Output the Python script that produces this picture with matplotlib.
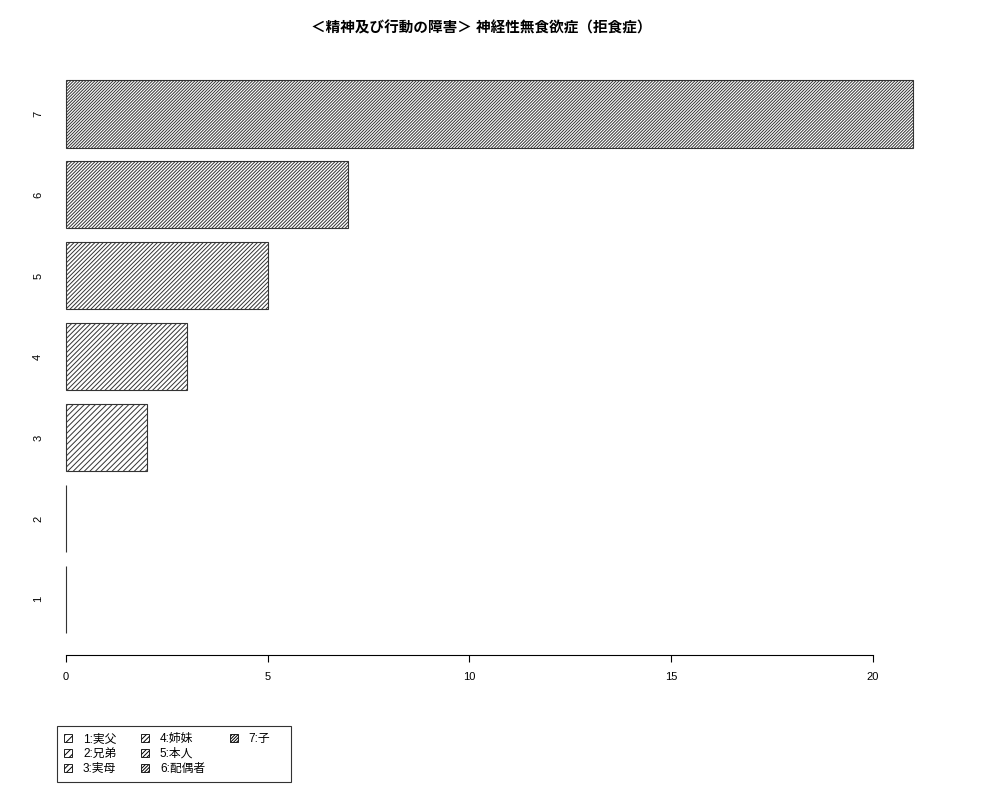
import matplotlib
matplotlib.use("Agg")
import matplotlib.pyplot as plt
from matplotlib.patches import Patch

plt.rcParams['font.family'] = ['Liberation Sans', 'Noto Sans CJK JP', 'DejaVu Sans']
plt.rcParams['hatch.linewidth'] = 0.7
plt.rcParams['hatch.color'] = 'black'

title = "＜精神及び行動の障害＞ 神経性無食欲症（拒食症）"
categories = ["1", "2", "3", "4", "5", "6", "7"]
values = [0, 0, 2, 3, 5, 7, 21]
legend_labels = ["1:実父", "2:兄弟", "3:実母", "4:姉妹", "5:本人", "6:配偶者", "7:子"]
hatches = ["/" * 4, "/" * 5, "/" * 6, "/" * 7, "/" * 8, "/" * 10, "/" * 11]
xticks = [0, 5, 10, 15, 20]

fig = plt.figure(figsize=(10, 8), dpi=100)
ax = fig.add_axes([0.032, 0.181, 0.915, 0.7465])

ypos = [0.7 + 1.2 * i for i in range(len(values))]
for y, v, h in zip(ypos, values, hatches):
    ax.barh(y, v, height=1.0, left=0, color='white', edgecolor='#333333',
            linewidth=0.8, hatch=h)

ax.set_xlim(-0.84, 21.84)
ax.set_ylim(-0.128, 8.728)
for s in ['top', 'right', 'left']:
    ax.spines[s].set_visible(False)
ax.spines['bottom'].set_bounds(0, 20)
ax.spines['bottom'].set_linewidth(0.8)
ax.set_xticks(xticks)
ax.set_xticklabels([str(t) for t in xticks], fontsize=8)
ax.tick_params(axis='x', length=5, width=0.8, pad=7)
ax.set_yticks(ypos)
ax.set_yticklabels(categories, rotation=90, fontsize=8, va='center')
ax.tick_params(axis='y', length=0, pad=-8)

fig.text(0.481, 0.964, title, ha='center', va='center', fontsize=10.5,
         fontweight='bold')

handles = [Patch(facecolor='white', edgecolor='black', hatch=h, linewidth=0.6)
           for h in hatches]
labels = list(legend_labels)
# two invisible fillers so that columns hold 3, 3 and 1 entries
for _ in range(2):
    handles.append(Patch(facecolor='none', edgecolor='none'))
    labels.append("\u3000\u3000\u3000")
leg = fig.legend(handles, labels, loc='lower left',
                 bbox_to_anchor=(0.057, 0.0225, 0.234, 0.071), mode='expand',
                 ncol=3, fontsize=8.5,
                 frameon=True, fancybox=False, edgecolor='black',
                 borderaxespad=0, handlelength=0.7, handleheight=0.7,
                 handletextpad=0.9, columnspacing=1.5, labelspacing=0.25,
                 borderpad=0.6)
leg.get_frame().set_linewidth(0.8)

fig.savefig("out.png", dpi=100)
